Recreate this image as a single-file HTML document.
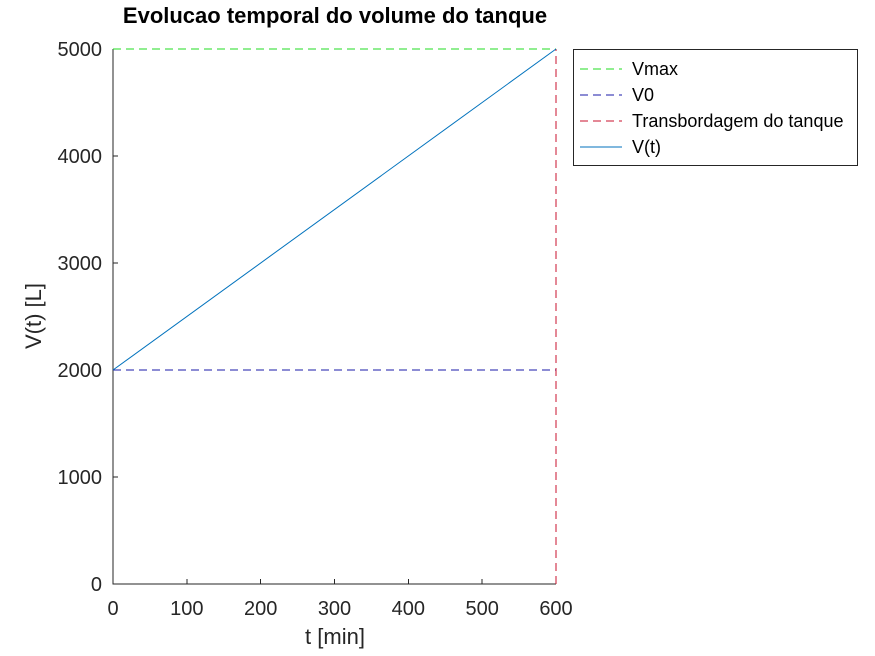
<!DOCTYPE html>
<html><head><meta charset="utf-8"><style>
body{margin:0;background:#fff;}
svg{display:block;font-family:"Liberation Sans",sans-serif;}
</style></head><body>
<svg id="chart" width="875" height="656" viewBox="0 0 875 656" shape-rendering="crispEdges"></svg>
<script>
const xTicks=[0,100,200,300,400,500,600];
const yTicks=[0,1000,2000,3000,4000,5000];
const tValues=[0,600];
const vValues=[2000,5000];
const vmax=5000, v0=2000, tOverflow=600;
const legendLabels=["Vmax","V0","Transbordagem do tanque","V(t)"];
const legendColors=["#22dd22","#1a1aaa","#c8102e","#0072bd"];
const legendDash=["8,5","8,5","8,5",""];

const NS="http://www.w3.org/2000/svg";
const svg=document.getElementById('chart');
const X0=113,X1=556,Y0=584,Y1=49;
const sx=v=>X0+(v-0)/(600-0)*(X1-X0);
const sy=v=>Y0-(v-0)/(5000-0)*(Y0-Y1);
function el(tag,attrs,parent){const e=document.createElementNS(NS,tag);for(const k in attrs)e.setAttribute(k,attrs[k]);(parent||svg).appendChild(e);return e;}

let t=el('text',{x:335,y:23,'text-anchor':'middle','font-size':22,'font-weight':'bold',fill:'#000'});


t.textContent='Evolucao temporal do volume do tanque';

let ax=el('path',{d:`M${X0},${Y1}V${Y0}H${X1}`,stroke:'#262626',fill:'none','stroke-width':1});


xTicks.forEach(v=>{
  el('line',{x1:sx(v),x2:sx(v),y1:Y0,y2:Y0-5,stroke:'#262626'});
  let tx=el('text',{x:sx(v),y:Y0+31,'text-anchor':'middle','font-size':20,fill:'#262626'});
  
  
  tx.textContent=v;
});
yTicks.forEach(v=>{
  el('line',{x1:X0,x2:X0+5,y1:sy(v),y2:sy(v),stroke:'#262626'});
  let tx=el('text',{x:X0-11,y:sy(v)+7,'text-anchor':'end','font-size':20,fill:'#262626'});
  
  
  tx.textContent=v;
});
let xl=el('text',{x:335,y:644,'text-anchor':'middle','font-size':22,fill:'#262626'});


xl.textContent='t [min]';
let yl=el('text',{x:0,y:0,transform:'translate(41,316) rotate(-90)','text-anchor':'middle','font-size':22,fill:'#262626'});


yl.textContent='V(t) [L]';

let l1=el('line',{x1:sx(0),x2:sx(600),y1:sy(vmax),y2:sy(vmax),stroke:legendColors[0],'stroke-dasharray':'8,5'});


let l2=el('line',{x1:sx(0),x2:sx(600),y1:sy(v0),y2:sy(v0),stroke:legendColors[1],'stroke-dasharray':'8,5'});


let l3=el('line',{x1:sx(tOverflow),x2:sx(tOverflow),y1:sy(0),y2:sy(vmax),stroke:legendColors[2],'stroke-dasharray':'8,5'});


let l4=el('polyline',{points:tValues.map((x,i)=>sx(x)+','+sy(vValues[i])).join(' '),stroke:legendColors[3],fill:'none','shape-rendering':'auto'});



let g=el('g',{});


el('rect',{x:573.5,y:49.5,width:284,height:116,fill:'#fff',stroke:'#262626'},g);
legendLabels.forEach((lab,i)=>{
  const y=69+i*26;
  let ln=el('line',{x1:580,x2:622,y1:y,y2:y,stroke:legendColors[i]},g);
  if(legendDash[i])ln.setAttribute('stroke-dasharray',legendDash[i]);
  let tx=el('text',{x:632,y:y+6,'font-size':18,fill:'#000'},g);
  
  
  tx.textContent=lab;
});
</script>
</body></html>
